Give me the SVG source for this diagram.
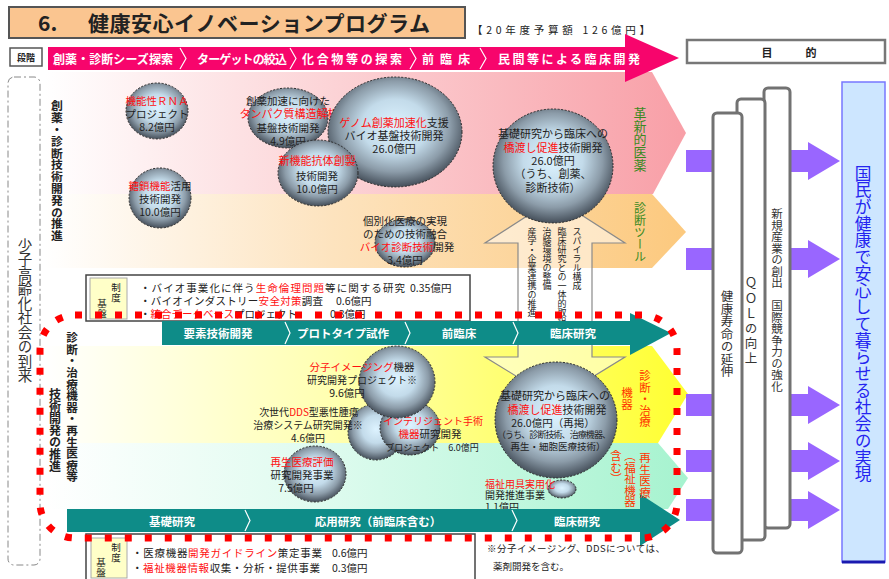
<svg xmlns="http://www.w3.org/2000/svg" width="889" height="579" viewBox="0 0 889 579">
<defs>
<style>
text{font-family:"Noto Sans CJK JP","Noto Sans",sans-serif;}
.h{dominant-baseline:central;}
.c{text-anchor:middle;}
.v{writing-mode:vertical-rl;}
.d{fill:#222;}
.r{fill:#FF1010;}
.wb{fill:#fff;font-weight:bold;font-size:12px;}
.tb{fill:#fff;font-weight:bold;font-size:11.5px;}
.bub{fill:url(#bubg);stroke:#2a2a2a;stroke-width:1;stroke-dasharray:2 1.5;}
.chev{fill:none;stroke:#fff;stroke-width:1.2;}
.pil{fill:#fff;stroke:#727272;stroke-width:3;}
.pur{fill:#9966FF;}
</style>
<radialGradient id="bubg" cx="50%" cy="45%" r="55%">
<stop offset="0" stop-color="#DDF3FF"/>
<stop offset="0.45" stop-color="#C3DBEA"/>
<stop offset="0.75" stop-color="#8C9CA9"/>
<stop offset="1" stop-color="#454F5A"/>
</radialGradient>
<linearGradient id="gPink" x1="0" y1="0" x2="1" y2="0">
<stop offset="0" stop-color="#FFFFFF"/>
<stop offset="0.45" stop-color="#FCD3D6"/>
<stop offset="1" stop-color="#F89FA7"/>
</linearGradient>
<linearGradient id="gOra" x1="0" y1="0" x2="1" y2="0">
<stop offset="0" stop-color="#FFFFFF"/>
<stop offset="0.45" stop-color="#FDE3BE"/>
<stop offset="1" stop-color="#FCC97E"/>
</linearGradient>
<linearGradient id="gYel" x1="0" y1="0" x2="1" y2="0">
<stop offset="0" stop-color="#FFFFFF"/>
<stop offset="0.45" stop-color="#FFFFB0"/>
<stop offset="1" stop-color="#FFFF30"/>
</linearGradient>
<linearGradient id="gMint" x1="0" y1="0" x2="1" y2="0">
<stop offset="0" stop-color="#FFFFFF"/>
<stop offset="0.45" stop-color="#DDFBEE"/>
<stop offset="1" stop-color="#A6F3CF"/>
</linearGradient>
</defs>

<rect width="889" height="579" fill="#fff"/>

<g id="bands">
<polygon points="45,72 652,72 686,133 653,194 45,194" fill="url(#gPink)"/>
<polygon points="45,194 652,194 686,232 652,268 45,268" fill="url(#gOra)"/>
<polygon points="45,346 652,346 688,394 658,443 45,443" fill="url(#gYel)"/>
<polygon points="45,443 658,443 688,478 668,509 45,509" fill="url(#gMint)"/>
</g>

<g id="title">
<rect x="9" y="7" width="456" height="31" fill="#FAC590" stroke="#555" stroke-width="2"/>
<text x="38" y="31" font-size="21" font-weight="bold" class="d">6.</text>
<text x="88" y="31" font-size="21" font-weight="bold" class="d" textLength="342">健康安心イノベーションプログラム</text>
<text x="472" y="29" font-size="10.5" class="d h" textLength="178">【20年度予算額 126億円】</text>
</g>

<g id="stage-bar">
<rect x="10" y="48" width="32" height="18" fill="#fff" stroke="#555" stroke-width="1.5"/>
<text x="26" y="57" font-size="9" font-weight="bold" class="d h c">段階</text>
<rect x="48" y="47" width="580" height="23" fill="#F7056C"/>
<polygon points="625,34 679,58 625,82" fill="#F7056C"/>
<path class="chev" d="M180,48 l6,10.5 l-6,10.5 M290,48 l6,10.5 l-6,10.5 M410,48 l6,10.5 l-6,10.5 M480,48 l6,10.5 l-6,10.5"/>
<text x="53" y="58.5" class="wb h" textLength="120">創薬・診断シーズ探索</text>
<text x="197" y="58.5" class="wb h" textLength="90">ターゲットの絞込</text>
<text x="302" y="58.5" class="wb h" textLength="100">化合物等の探索</text>
<text x="422" y="58.5" class="wb h" textLength="48">前臨床</text>
<text x="498" y="58.5" class="wb h" textLength="142">民間等による臨床開発</text>
</g>

<g id="purpose-header">
<rect x="687" y="40" width="198" height="23" fill="#fff" stroke="#777" stroke-width="2.5"/>
<text x="767" y="51.5" font-size="11" font-weight="bold" class="d h c">目</text>
<text x="811" y="51.5" font-size="11" font-weight="bold" class="d h c">的</text>
</g>

<g id="society">
<rect x="8" y="77" width="32" height="488" rx="6" fill="#fff" stroke="#888" stroke-width="1" stroke-dasharray="7 3 2 3"/>
<text x="25" y="238" font-size="14.5" class="v" fill="#333">少子高齢化社会の到来</text>
</g>

<g id="section-labels">
<text x="57" y="100" font-size="11.8" font-weight="bold" class="v d">創薬・診断技術開発の推進</text>
<text x="72" y="332" font-size="11.6" font-weight="bold" class="v d">診断・治療機器・再生医療等</text>
<text x="55" y="388" font-size="12" font-weight="bold" class="v d">技術開発の推進</text>
</g>

<g id="spiral-arrow">
<polygon points="555,198 625,243 592,243 592,357 625,357 555,400 485,357 518,357 518,243 485,243" fill="#fff" fill-opacity="0.5" stroke="#8a8a8a" stroke-width="1.2"/>
<text x="577" y="227" font-size="9" class="v d">スパイラル構成</text>
<text x="562" y="227" font-size="9" class="v d">臨床研究との一体的取組</text>
<text x="547" y="227" font-size="9" class="v d">治験環境の整備</text>
<text x="532" y="227" font-size="9" class="v d">産学・企業連携の推進</text>
</g>

<g id="b-rna">
<ellipse class="bub" cx="157" cy="111" rx="31" ry="28"/>
<text x="157" y="100" font-size="10.5" class="h c r">機能性ＲＮＡ</text>
<text x="157" y="113" font-size="10.5" class="h c d">プロジェクト</text>
<text x="157" y="126" font-size="10.5" class="h c d">8.2億円</text>
</g>

<g id="b-sugar">
<ellipse class="bub" cx="160" cy="198" rx="31" ry="30"/>
<text x="160" y="185" font-size="10.5" class="h c d"><tspan class="r">糖鎖機能</tspan>活用</text>
<text x="160" y="198" font-size="10.5" class="h c d">技術開発</text>
<text x="160" y="211" font-size="10.5" class="h c d">10.0億円</text>
</g>

<g id="b-protein">
<ellipse class="bub" cx="288" cy="118" rx="40" ry="30"/>
<text x="288" y="100" font-size="10.5" class="h c d">創薬加速に向けた</text>
<text x="289" y="113" font-size="11" class="h c r">タンパク質構造解析</text>
<text x="288" y="127" font-size="10.5" class="h c d">基盤技術開発</text>
<text x="288" y="140" font-size="10.5" class="h c d">4.9億円</text>
</g>

<g id="b-genome">
<ellipse class="bub" cx="395" cy="132" rx="67" ry="55"/>
<text x="394" y="122" font-size="11" class="h c d"><tspan class="r">ゲノム創薬加速化</tspan>支援</text>
<text x="394" y="135" font-size="11" class="h c d">バイオ基盤技術開発</text>
<text x="394" y="148" font-size="11" class="h c d">26.0億円</text>
</g>

<g id="b-antibody">
<ellipse class="bub" cx="318" cy="173" rx="40" ry="33"/>
<text x="317" y="160" font-size="11" class="h c r">新機能抗体創製</text>
<text x="317" y="175" font-size="10.5" class="h c d">技術開発</text>
<text x="317" y="188" font-size="10.5" class="h c d">10.0億円</text>
</g>

<g id="b-bridge1">
<ellipse class="bub" cx="553" cy="166" rx="60" ry="57"/>
<text x="553" y="133" font-size="11" class="h c d">基礎研究から臨床への</text>
<text x="553" y="147" font-size="11" class="h c d"><tspan class="r">橋渡し促進</tspan>技術開発</text>
<text x="553" y="160" font-size="11" class="h c d">26.0億円</text>
<text x="553" y="173" font-size="11" class="h c d">（うち、創薬、</text>
<text x="553" y="187" font-size="11" class="h c d">診断技術）</text>
</g>

<g id="b-biodiag">
<ellipse class="bub" cx="405" cy="243" rx="30" ry="24"/>
<text x="405" y="220" font-size="10.5" class="h c d">個別化医療の実現</text>
<text x="405" y="233" font-size="10.5" class="h c d">のための技術融合</text>
<text x="407" y="246" font-size="10.5" class="h c d"><tspan class="r">バイオ診断技術</tspan>開発</text>
<text x="405" y="259" font-size="10.5" class="h c d">3.4億円</text>
</g>

<g id="system-upper">
<rect x="86" y="275" width="384" height="46" fill="#fff" stroke="#444" stroke-width="1.5"/>
<rect x="90" y="278" width="37" height="41" fill="#FFFFC8" stroke="#aaa" stroke-width="1"/>
<text x="116" y="283" font-size="9.5" class="v d">制度</text>
<text x="102" y="299" font-size="9.5" class="v d">基盤</text>
<text x="140" y="287" font-size="10.5" class="h d" textLength="265">・バイオ事業化に伴う<tspan class="r">生命倫理問題</tspan>等に関する研究</text>
<text x="410" y="287" font-size="10.5" class="h d">0.35億円</text>
<text x="140" y="300" font-size="10.5" class="h d" textLength="183">・バイオインダストリー<tspan class="r">安全対策</tspan>調査</text>
<text x="336" y="300" font-size="10.5" class="h d">0.6億円</text>
<text x="140" y="313" font-size="10.5" class="h d">・<tspan class="r">統合データベース</tspan>プロジェクト</text>
<text x="330" y="313" font-size="10.5" class="h d">0.3億円</text>
</g>

<g id="phase-upper">
<rect x="162" y="321" width="470" height="24" fill="#0E8C88"/>
<polygon points="630,313 671,333 630,355" fill="#0E8C88"/>
<path class="chev" d="M285,322 l5,11 l-5,11 M405,322 l5,11 l-5,11 M513,322 l5,11 l-5,11"/>
<text x="218" y="333" class="tb h c">要素技術開発</text>
<text x="343" y="333" class="tb h c">プロトタイプ試作</text>
<text x="459" y="333" class="tb h c">前臨床</text>
<text x="573" y="333" class="tb h c">臨床研究</text>
</g>

<g id="b-dds">
<ellipse class="bub" cx="376" cy="432" rx="28" ry="28"/>
<text x="309" y="411" font-size="10" class="h c d">次世代<tspan class="r">DDS</tspan>型悪性腫瘍</text>
<text x="308" y="424" font-size="10" class="h c d">治療システム研究開発※</text>
<text x="308" y="437" font-size="10" class="h c d">4.6億円</text>
</g>

<g id="b-surgery">
<ellipse class="bub" cx="410" cy="428" rx="30" ry="27"/>
<text x="433" y="420" font-size="10" class="h c r">インテリジェント手術</text>
<text x="430" y="433" font-size="10.5" class="h c d"><tspan class="r">機器</tspan>研究開発</text>
<text x="432" y="447" font-size="9" class="h c d">プロジェクト　6.0億円</text>
</g>

<g id="b-imaging">
<ellipse class="bub" cx="397" cy="382" rx="38" ry="36"/>
<text x="362" y="366" font-size="10.5" class="h c d"><tspan class="r">分子イメージング</tspan>機器</text>
<text x="362" y="379" font-size="10" class="h c d">研究開発プロジェクト※</text>
<text x="347" y="392" font-size="10.5" class="h c d">9.6億円</text>
</g>

<g id="b-regen">
<ellipse class="bub" cx="315" cy="474" rx="31" ry="28"/>
<text x="302" y="461" font-size="10.5" class="h c r">再生医療評価</text>
<text x="302" y="474" font-size="10.5" class="h c d">研究開発事業</text>
<text x="296" y="487" font-size="10.5" class="h c d">7.5億円</text>
</g>

<g id="b-bridge2">
<ellipse class="bub" cx="556" cy="420" rx="61" ry="58"/>
<text x="555" y="395" font-size="11" class="h c d">基礎研究から臨床への</text>
<text x="557" y="409" font-size="11" class="h c d"><tspan class="r">橋渡し促進</tspan>技術開発</text>
<text x="553" y="422" font-size="10.5" class="h c d">26.0億円（再掲）</text>
<text x="554" y="434" font-size="9" class="h c d" textLength="114">（うち、診断技術、治療機器、</text>
<text x="558" y="446" font-size="9.5" class="h c d">再生・細胞医療技術）</text>
</g>

<g id="b-welfare">
<ellipse class="bub" cx="562" cy="489" rx="14" ry="9"/>
<text x="485" y="483" font-size="10" class="h r">福祉用具実用化</text>
<text x="485" y="494.5" font-size="10" class="h d">開発推進事業</text>
<text x="485" y="506" font-size="10" class="h d">1.1億円</text>
</g>

<g id="phase-lower">
<rect x="67" y="509" width="575" height="23" fill="#0E8C88"/>
<polygon points="640,494 680,520 640,546" fill="#0E8C88"/>
<path class="chev" d="M245,510 l5,10.5 l-5,10.5 M512,510 l5,10.5 l-5,10.5"/>
<text x="172" y="521" class="tb h c">基礎研究</text>
<text x="378" y="521" class="tb h c">応用研究（前臨床含む）</text>
<text x="577" y="521" class="tb h c">臨床研究</text>
</g>

<g id="system-lower">
<rect x="86" y="534" width="389" height="50" fill="#fff" stroke="#444" stroke-width="1.5"/>
<rect x="91" y="538" width="36" height="40" fill="#FFFFC8" stroke="#aaa" stroke-width="1"/>
<text x="116" y="543" font-size="9.5" class="v d">制度</text>
<text x="101" y="558" font-size="9.5" class="v d">基盤</text>
<text x="132" y="552" font-size="10.5" class="h d" textLength="190">・医療機器<tspan class="r">開発ガイドライン</tspan>策定事業</text>
<text x="332" y="552" font-size="10.5" class="h d">0.6億円</text>
<text x="132" y="567" font-size="10.5" class="h d" textLength="188">・<tspan class="r">福祉機器情報</tspan>収集・分析・提供事業</text>
<text x="332" y="567" font-size="10.5" class="h d">0.3億円</text>
</g>

<g id="note">
<text x="487" y="548" font-size="9.5" class="h d" textLength="178">※分子イメージング、DDSについては、</text>
<text x="493" y="566" font-size="9.5" class="h d">薬剤開発を含む。</text>
</g>

<g id="dotted-frame">
<rect x="40" y="315" width="637" height="223" rx="35" fill="none" stroke="#FF0000" stroke-width="7" stroke-dasharray="7 13"/>
</g>

<g id="field-labels">
<text x="640" y="107" font-size="13" class="v" fill="#3A8A1F">革新的医薬</text>
<text x="640" y="202" font-size="12" class="v" fill="#3A8A1F">診断ツール</text>
<text x="645" y="370" font-size="11.5" class="v" fill="#FF3300">診断・治療</text>
<text x="627" y="387" font-size="11.5" class="v" fill="#FF3300">機器</text>
<text x="645" y="452" font-size="11.5" class="v" fill="#FF3300">再生医療</text>
<text x="630" y="450" font-size="11.5" class="v" fill="#FF3300">（福祉機器</text>
<text x="616" y="450" font-size="11.5" class="v" fill="#FF3300">含む）</text>
</g>

<g id="connectors">
<rect class="pur" x="686" y="150" width="28" height="22"/>
<rect class="pur" x="686" y="248" width="28" height="22"/>
<rect class="pur" x="686" y="394" width="28" height="22"/>
<rect class="pur" x="686" y="450" width="28" height="22"/>
<rect class="pur" x="686" y="499" width="28" height="22"/>
<path class="pur" d="M789,150 H808 V142 L840,161 L808,180 V172 H789 Z"/>
<path class="pur" d="M789,248 H808 V240 L840,259 L808,278 V270 H789 Z"/>
<path class="pur" d="M789,394 H808 V386 L840,405 L808,424 V416 H789 Z"/>
<path class="pur" d="M789,450 H808 V442 L840,461 L808,480 V472 H789 Z"/>
<path class="pur" d="M789,499 H808 V491 L840,510 L808,529 V521 H789 Z"/>
</g>

<g id="pillar-industry">
<rect class="pil" x="764" y="88" width="26" height="440" rx="4"/>
<text x="777" y="208" font-size="11.5" class="v" fill="#333">新規産業の創出　国際競争力の強化</text>
</g>
<g id="pillar-qol">
<rect class="pil" x="737" y="99" width="28" height="441" rx="4"/>
<text x="751" y="277" font-size="12.5" class="v" fill="#333" letter-spacing="2.5">ＱＯＬの向上</text>
</g>
<g id="pillar-life">
<rect class="pil" x="713" y="113" width="29" height="440" rx="4"/>
<text x="727" y="290" font-size="12.5" class="v" fill="#333">健康寿命の延伸</text>
</g>

<g id="goal">
<rect x="842" y="82" width="43" height="480" fill="#CDE6FF" stroke="#7777FF" stroke-width="1.5"/>
<line x1="842" y1="562" x2="885" y2="562" stroke="#1A1AB0" stroke-width="3"/>
<text x="863" y="165" font-size="16.7" class="v" fill="#2424F0">国民が健康で安心して暮らせる社会の実現</text>
</g>
</svg>
